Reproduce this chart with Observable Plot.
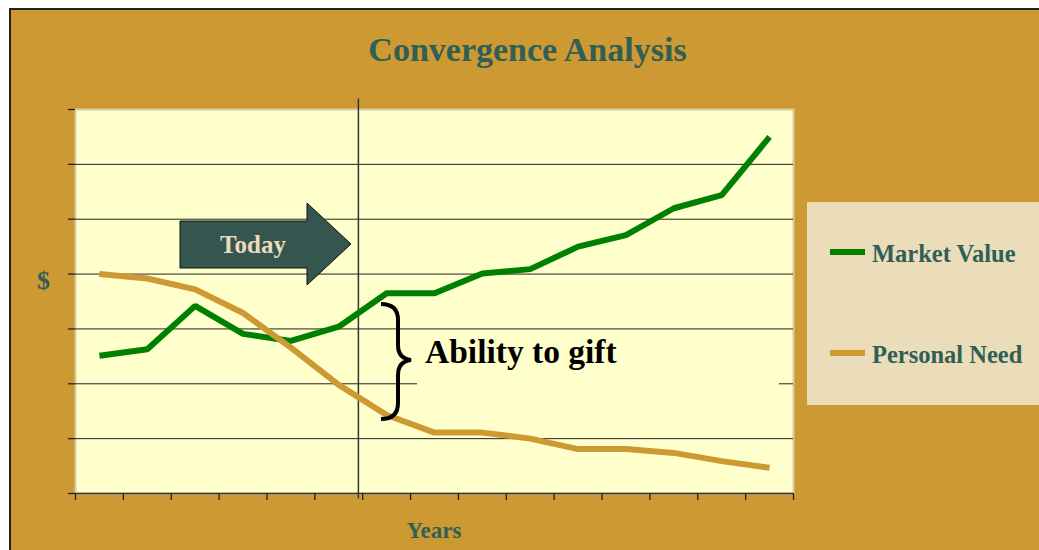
<!DOCTYPE html>
<html>
<head>
<meta charset="utf-8">
<script src="https://cdn.jsdelivr.net/npm/d3@7"></script>
<script src="https://cdn.jsdelivr.net/npm/@observablehq/plot@0.6"></script>
<style>
  html, body { margin: 0; padding: 0; background: #fff; }
  #page { position: relative; width: 1039px; height: 550px; overflow: hidden; font-family: "Liberation Serif", serif; }
  #bg { position: absolute; left: 9px; top: 8px; right: 0; bottom: 0; background: #CC9933; border-top: 2px solid #222; border-left: 2px solid #222; }
  #chart { position: absolute; left: 0; top: 0; }
  .lbl { position: absolute; font-weight: bold; color: #2F5F55; white-space: nowrap; line-height: 1; }
  #title { left: 0; width: 1055px; text-align: center; top: 33px; font-size: 34px; }
  #dollar { left: 37px; top: 268px; font-size: 26px; }
  #years { left: 75px; width: 718px; text-align: center; top: 519px; font-size: 23px; }
  #legend { position: absolute; left: 807px; top: 202px; width: 240px; height: 203px; background: #EBDCBA; }
  .sw { position: absolute; left: 23px; width: 35px; height: 6px; }
  .lt { position: absolute; left: 65px; font-size: 24.5px; font-weight: bold; color: #2F5F55; white-space: nowrap; line-height: 1; }
  #overlay { position: absolute; left: 0; top: 0; pointer-events: none; }
</style>
</head>
<body>
<div id="page">
  <div id="bg"></div>
  <div id="chart"></div>
  <svg id="overlay" width="1039" height="550"></svg>
  <div class="lbl" id="title">Convergence Analysis</div>
  <div class="lbl" id="dollar">$</div>
  <div class="lbl" id="years">Years</div>
  <div id="legend">
    <div class="sw" style="top:47px;background:#008000"></div>
    <div class="lt" style="top:40px">Market Value</div>
    <div class="sw" style="top:148px;background:#CC9933"></div>
    <div class="lt" style="top:141px">Personal Need</div>
  </div>
</div>
<script>
// ---- data (in gridline units) ----
const years = d3.range(1, 16);
const marketValue = [2.51, 2.63, 3.42, 2.91, 2.78, 3.04, 3.65, 3.65, 4.01, 4.09, 4.50, 4.71, 5.20, 5.44, 6.50];
const personalNeed = [4.00, 3.92, 3.72, 3.29, 2.66, 1.98, 1.43, 1.11, 1.11, 1.00, 0.81, 0.81, 0.74, 0.59, 0.47];
const seriesNames = ["Market Value", "Personal Need"];
const seriesColors = ["#008000", "#CC9933"];
const yTicks = d3.range(0, 8);
const xTicks = d3.range(0, 16);
const todayX = 5.91;

const rows = [];
years.forEach((yr, i) => {
  rows.push({year: yr, pos: i + 0.5, value: marketValue[i], series: seriesNames[0]});
  rows.push({year: yr, pos: i + 0.5, value: personalNeed[i], series: seriesNames[1]});
});

const plot = Plot.plot({
  width: 1039,
  height: 550,
  marginLeft: 75,
  marginRight: 246,
  marginTop: 109,
  marginBottom: 57,
  style: {background: "transparent"},
  x: {type: "linear", domain: [0, 15], axis: null, label: null},
  y: {type: "linear", domain: [0, 7], axis: null, label: null},
  color: {domain: seriesNames, range: seriesColors},
  marks: [
    Plot.frame({fill: "#FFFFCC", stroke: "#D9CBA3", strokeWidth: 2}),
    Plot.ruleY(d3.range(1, 7), {stroke: "#222", strokeWidth: 1}),
    Plot.ruleY([0], {stroke: "#333", strokeWidth: 1.5}),
    Plot.axisX({ticks: xTicks, tickSize: 7, tickFormat: () => "", label: null, stroke: "#222", strokeWidth: 1.3}),
    Plot.axisY({ticks: yTicks, tickSize: 7, tickFormat: () => "", label: null, stroke: "#222", strokeWidth: 1.3}),
    Plot.ruleX([todayX], {y1: -0.1, y2: 7.19, stroke: "#333", strokeWidth: 1.5, clip: false}),
    Plot.line(rows, {x: "pos", y: "value", z: "series", stroke: "series", strokeWidth: 6, strokeLinecap: "butt", strokeLinejoin: "miter"})
  ]
});
document.getElementById("chart").appendChild(plot);

// ---- annotations ----
const ov = d3.select("#overlay");
// text box covering part of the gridline
ov.append("rect").attr("x", 417).attr("y", 340).attr("width", 362).attr("height", 52).attr("fill", "#FFFFCC");
ov.append("text").attr("x", 425).attr("y", 363)
  .attr("font-family", "Liberation Serif").attr("font-weight", "bold").attr("font-size", 33.5)
  .attr("fill", "#000").text("Ability to gift");
// brace
ov.append("path")
  .attr("d", "M381,304 C392,304 398,309 398,320 L398,345 C398,354 402,359 411,360 C402,361 398,366 398,375 L398,403 C398,414 392,419 381,419")
  .attr("fill", "none").attr("stroke", "#000").attr("stroke-width", 4);
// Today arrow
ov.append("polygon")
  .attr("points", "180,221 307,221 307,203 351,244 307,285 307,268 180,268")
  .attr("fill", "#34564F").attr("stroke", "#111").attr("stroke-width", 1);
ov.append("text").attr("x", 253).attr("y", 253).attr("text-anchor", "middle")
  .attr("font-family", "Liberation Serif").attr("font-weight", "bold").attr("font-size", 25)
  .attr("fill", "#EBDBBB").text("Today");
</script>
</body>
</html>
